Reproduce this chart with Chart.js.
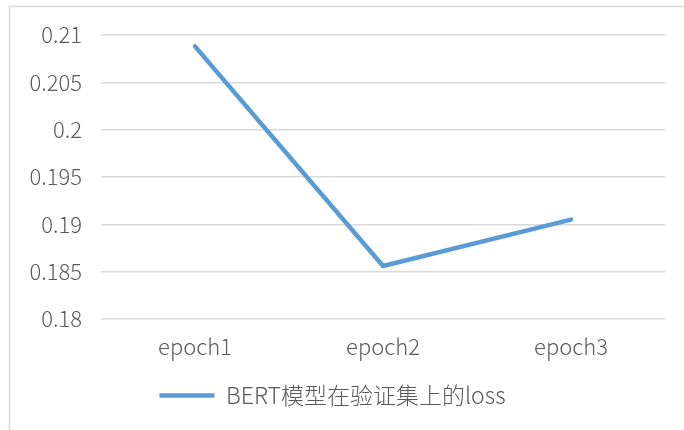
<!DOCTYPE html>
<html>
<head>
<meta charset="utf-8">
<script src="https://cdn.jsdelivr.net/npm/chart.js@4"></script>
<style>
  body { margin: 0; background: #fff; }
  #wrap { width: 684px; height: 430px; position: relative; }
</style>
</head>
<body>
<div id="wrap"><canvas id="lossChart"></canvas></div>
<script>
// 数据
const epochs = ['epoch1', 'epoch2', 'epoch3'];
const lossValues = [0.2088, 0.1856, 0.1905];
const seriesName = 'BERT模型在验证集上的loss';
const yMin = 0.18;
const yMax = 0.21;
const yStep = 0.005;

const fontFamily = "'Noto Sans CJK SC', 'Noto Sans', sans-serif";
const textColor = '#595959';
const gridColor = '#d9d9d9';
const labelFont = { family: fontFamily, size: 22, weight: 300 };

// 外框（只画左边和上边，和原图一样）
const frame = {
    id: 'frame',
    beforeDraw(chart) {
        const ctx = chart.ctx;
        ctx.save();
        ctx.fillStyle = '#fff';
        ctx.fillRect(0, 0, chart.width, chart.height);
        ctx.strokeStyle = gridColor;
        ctx.lineWidth = 1.5;
        ctx.beginPath();
        ctx.moveTo(9.5, chart.height);
        ctx.lineTo(9.5, 6.5);
        ctx.lineTo(chart.width, 6.5);
        ctx.stroke();
        ctx.restore();
    }
};

new Chart(document.getElementById('lossChart'), {
    type: 'line',
    data: {
        labels: epochs,
        datasets: [{
            label: seriesName,
            data: lossValues,
            borderColor: '#5b9bd5',
            backgroundColor: '#5b9bd5',
            borderWidth: 4.5,
            borderCapStyle: 'round',
            borderJoinStyle: 'round',
            pointRadius: 0,
            tension: 0
        }]
    },
    options: {
        responsive: true,
        maintainAspectRatio: false,
        animation: false,
        layout: { padding: { left: 0, right: 19, top: 35, bottom: 13 } },
        plugins: {
            legend: {
                position: 'bottom',
                labels: {
                    color: textColor,
                    font: { family: fontFamily, size: 23, weight: 300 },
                    usePointStyle: true,
                    pointStyle: 'line',
                    pointStyleWidth: 55,
                    padding: 10
                }
            },
            tooltip: { enabled: false }
        },
        scales: {
            x: {
                offset: true,
                grid: { display: false },
                border: { display: false },
                ticks: {
                    color: textColor,
                    font: labelFont,
                    padding: 6
                },
                afterFit(scale) { scale.height = 55; }
            },
            y: {
                min: yMin,
                max: yMax,
                grid: { color: gridColor, lineWidth: 1.5, drawTicks: false },
                border: { display: false },
                ticks: {
                    stepSize: yStep,
                    color: textColor,
                    font: labelFont,
                    padding: 19,
                    callback: v => String(+v.toFixed(3))
                },
                afterFit(scale) { scale.width = 101; }
            }
        }
    },
    plugins: [frame]
});
</script>
</body>
</html>
